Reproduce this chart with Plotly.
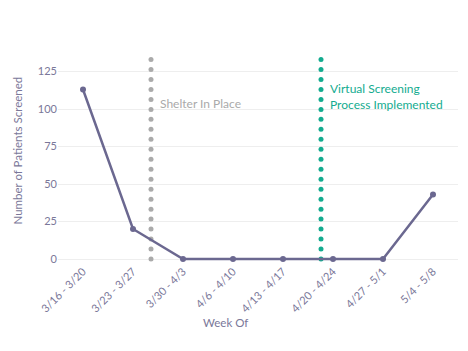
import numpy as np
import plotly.graph_objects as go

weeks = ["3/16 - 3/20", "3/23 - 3/27", "3/30 - 4/3", "4/6 - 4/10",
         "4/13 - 4/17", "4/20 - 4/24", "4/27 - 5/1", "5/4 - 5/8"]
patients = [113, 20, 0, 0, 0, 0, 0, 43]

events = ["Shelter In Place", "Virtual Screening<br>Process Implemented"]
event_x = [1.36, 4.76]
event_colors = ["#aaaaaa", "#13ab8f"]
event_label_y = [104, 108.5]
event_top = 133

xpos = list(range(len(weeks)))
line_color = "#6b6890"
text_color = "#7a7799"
font = "Lato"

# plot area in pixels (for placing titles)
L, R, T, B = 58, 10, 55, 89
W, H = 468, 351
pw, ph = W - L - R, H - T - B

fig = go.Figure()

dot_y = np.linspace(0, event_top, 21)
for name, ex, col in zip(events, event_x, event_colors):
    fig.add_trace(go.Scatter(
        x=[ex] * len(dot_y), y=dot_y, mode="markers",
        marker=dict(color=col, size=5), hoverinfo="skip", showlegend=False))

fig.add_trace(go.Scatter(
    x=xpos, y=patients, mode="lines+markers",
    line=dict(color=line_color, width=2.5),
    marker=dict(color=line_color, size=6), showlegend=False))

for name, ex, col, ly in zip(events, event_x, event_colors, event_label_y):
    fig.add_annotation(x=ex, y=ly, xref="x", yref="y", text=name,
                       showarrow=False, xanchor="left", yanchor="middle",
                       align="left", xshift=7,
                       font=dict(family=font, size=12, color=col))

fig.add_annotation(x=(225 - L) / pw, y=-(322 - (H - B)) / ph,
                   xref="paper", yref="paper", text="Week Of",
                   showarrow=False, xanchor="center", yanchor="middle",
                   font=dict(family=font, size=11.5, color=text_color))
fig.add_annotation(x=-(L - 16.5) / pw, y=((H - B) - 151) / ph,
                   xref="paper", yref="paper", text="Number of Patients Screened",
                   textangle=-90, showarrow=False,
                   xanchor="center", yanchor="middle",
                   font=dict(family=font, size=11.5, color=text_color))

fig.update_layout(
    width=W, height=H,
    margin=dict(l=L, r=R, t=T, b=B),
    paper_bgcolor="white", plot_bgcolor="white",
    font=dict(family=font, size=11, color=text_color),
    xaxis=dict(range=[-0.5, 7.5], tickvals=xpos, ticktext=weeks,
               tickangle=-45, showgrid=False, zeroline=False,
               tickfont=dict(size=11, color=text_color)),
    yaxis=dict(range=[-2, 136], tickvals=[0, 25, 50, 75, 100, 125],
               gridcolor="#eeeeee", zeroline=False,
               tickfont=dict(size=11, color=text_color)),
)

fig.write_html("out.html")
